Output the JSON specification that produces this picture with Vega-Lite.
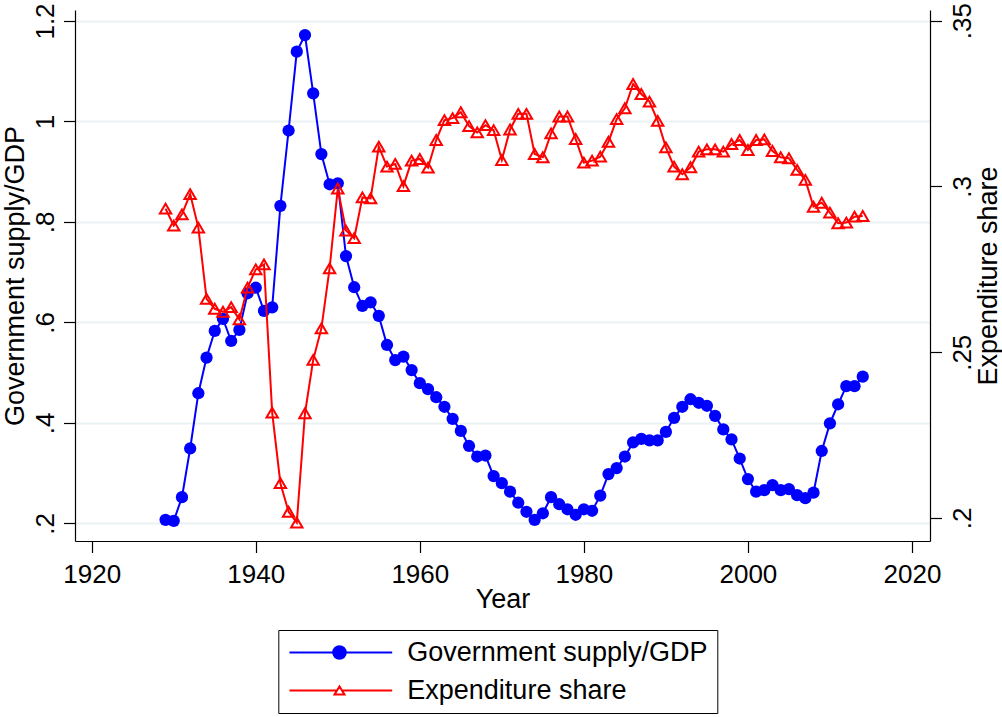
{
  "$schema": "https://vega.github.io/schema/vega-lite/v6.json",
  "autosize": "none",
  "width": 855,
  "height": 531,
  "padding": {"left": 75, "top": 10, "right": 72, "bottom": 176},
  "background": "white",
  "config": {
    "font": "Liberation Sans",
    "view": {"stroke": null},
    "axis": {
      "domainColor": "black",
      "domainWidth": 1.2,
      "tickColor": "black",
      "tickWidth": 1.2,
      "tickSize": 11.5,
      "labelColor": "black",
      "titleColor": "black",
      "labelFontSize": 26,
      "titleFontSize": 27,
      "titleFontWeight": "normal",
      "labelFont": "Liberation Sans",
      "titleFont": "Liberation Sans",
      "labelOverlap": false,
      "labelFlush": false,
      "labelBound": false
    }
  },
  "data": {
    "values": [
      {"year": 1929, "gov": 0.207, "exp": 0.2933},
      {"year": 1930, "gov": 0.205, "exp": 0.2882},
      {"year": 1931, "gov": 0.252, "exp": 0.2916},
      {"year": 1932, "gov": 0.349, "exp": 0.2977},
      {"year": 1933, "gov": 0.459, "exp": 0.2876},
      {"year": 1934, "gov": 0.530, "exp": 0.2661},
      {"year": 1935, "gov": 0.583, "exp": 0.2631},
      {"year": 1936, "gov": 0.607, "exp": 0.2622},
      {"year": 1937, "gov": 0.563, "exp": 0.2636},
      {"year": 1938, "gov": 0.585, "exp": 0.2599},
      {"year": 1939, "gov": 0.658, "exp": 0.2695},
      {"year": 1940, "gov": 0.669, "exp": 0.2750},
      {"year": 1941, "gov": 0.623, "exp": 0.2765},
      {"year": 1942, "gov": 0.630, "exp": 0.2318},
      {"year": 1943, "gov": 0.832, "exp": 0.2105},
      {"year": 1944, "gov": 0.982, "exp": 0.2019},
      {"year": 1945, "gov": 1.139, "exp": 0.1986},
      {"year": 1946, "gov": 1.172, "exp": 0.2316},
      {"year": 1947, "gov": 1.056, "exp": 0.2477},
      {"year": 1948, "gov": 0.935, "exp": 0.2572},
      {"year": 1949, "gov": 0.875, "exp": 0.2753},
      {"year": 1950, "gov": 0.877, "exp": 0.2994},
      {"year": 1951, "gov": 0.732, "exp": 0.2867},
      {"year": 1952, "gov": 0.670, "exp": 0.2844},
      {"year": 1953, "gov": 0.633, "exp": 0.2967},
      {"year": 1954, "gov": 0.640, "exp": 0.2964},
      {"year": 1955, "gov": 0.613, "exp": 0.3120},
      {"year": 1956, "gov": 0.555, "exp": 0.3060},
      {"year": 1957, "gov": 0.525, "exp": 0.3068},
      {"year": 1958, "gov": 0.532, "exp": 0.3001},
      {"year": 1959, "gov": 0.505, "exp": 0.3078},
      {"year": 1960, "gov": 0.479, "exp": 0.3083},
      {"year": 1961, "gov": 0.467, "exp": 0.3057},
      {"year": 1962, "gov": 0.451, "exp": 0.3140},
      {"year": 1963, "gov": 0.432, "exp": 0.3200},
      {"year": 1964, "gov": 0.408, "exp": 0.3206},
      {"year": 1965, "gov": 0.384, "exp": 0.3224},
      {"year": 1966, "gov": 0.354, "exp": 0.3182},
      {"year": 1967, "gov": 0.333, "exp": 0.3163},
      {"year": 1968, "gov": 0.335, "exp": 0.3185},
      {"year": 1969, "gov": 0.294, "exp": 0.3170},
      {"year": 1970, "gov": 0.280, "exp": 0.3080},
      {"year": 1971, "gov": 0.263, "exp": 0.3172},
      {"year": 1972, "gov": 0.241, "exp": 0.3219},
      {"year": 1973, "gov": 0.223, "exp": 0.3219},
      {"year": 1974, "gov": 0.207, "exp": 0.3098},
      {"year": 1975, "gov": 0.220, "exp": 0.3088},
      {"year": 1976, "gov": 0.252, "exp": 0.3160},
      {"year": 1977, "gov": 0.238, "exp": 0.3211},
      {"year": 1978, "gov": 0.228, "exp": 0.3211},
      {"year": 1979, "gov": 0.217, "exp": 0.3143},
      {"year": 1980, "gov": 0.228, "exp": 0.3072},
      {"year": 1981, "gov": 0.225, "exp": 0.3078},
      {"year": 1982, "gov": 0.255, "exp": 0.3090},
      {"year": 1983, "gov": 0.298, "exp": 0.3135},
      {"year": 1984, "gov": 0.310, "exp": 0.3203},
      {"year": 1985, "gov": 0.333, "exp": 0.3236},
      {"year": 1986, "gov": 0.361, "exp": 0.3309},
      {"year": 1987, "gov": 0.368, "exp": 0.3279},
      {"year": 1988, "gov": 0.365, "exp": 0.3256},
      {"year": 1989, "gov": 0.365, "exp": 0.3198},
      {"year": 1990, "gov": 0.382, "exp": 0.3118},
      {"year": 1991, "gov": 0.410, "exp": 0.3060},
      {"year": 1992, "gov": 0.432, "exp": 0.3037},
      {"year": 1993, "gov": 0.447, "exp": 0.3058},
      {"year": 1994, "gov": 0.440, "exp": 0.3105},
      {"year": 1995, "gov": 0.434, "exp": 0.3112},
      {"year": 1996, "gov": 0.414, "exp": 0.3112},
      {"year": 1997, "gov": 0.387, "exp": 0.3105},
      {"year": 1998, "gov": 0.367, "exp": 0.3128},
      {"year": 1999, "gov": 0.329, "exp": 0.3140},
      {"year": 2000, "gov": 0.288, "exp": 0.3110},
      {"year": 2001, "gov": 0.263, "exp": 0.3140},
      {"year": 2002, "gov": 0.266, "exp": 0.3142},
      {"year": 2003, "gov": 0.276, "exp": 0.3107},
      {"year": 2004, "gov": 0.266, "exp": 0.3088},
      {"year": 2005, "gov": 0.268, "exp": 0.3085},
      {"year": 2006, "gov": 0.256, "exp": 0.3050},
      {"year": 2007, "gov": 0.250, "exp": 0.3020},
      {"year": 2008, "gov": 0.261, "exp": 0.2939},
      {"year": 2009, "gov": 0.344, "exp": 0.2951},
      {"year": 2010, "gov": 0.399, "exp": 0.2921},
      {"year": 2011, "gov": 0.437, "exp": 0.2889},
      {"year": 2012, "gov": 0.473, "exp": 0.2891},
      {"year": 2013, "gov": 0.473, "exp": 0.2909},
      {"year": 2014, "gov": 0.492, "exp": 0.2911}
    ]
  },
  "encoding": {
    "x": {
      "field": "year",
      "type": "quantitative",
      "scale": {"domain": [1917.96, 2022.2], "nice": false, "zero": false},
      "axis": {
        "title": "Year",
        "values": [1920, 1940, 1960, 1980, 2000, 2020],
        "format": "d",
        "grid": false,
        "labelPadding": 9,
        "titleBaseline": "top",
        "titleY": 45
      }
    }
  },
  "layer": [
    {
      "encoding": {
        "y": {
          "field": "gov",
          "type": "quantitative",
          "scale": {"domain": [0.1648, 1.2219], "nice": false, "zero": false},
          "axis": {
            "orient": "left",
            "title": "Government supply/GDP",
            "values": [0.2, 0.4, 0.6, 0.8, 1, 1.2],
            "labelExpr": "replace(format(datum.value, '~g'), '0.', '.')",
            "labelAngle": -90,
            "labelAlign": "center",
            "labelBaseline": "alphabetic",
            "labelPadding": 10.5,
            "grid": true,
            "gridColor": "#eaf2f3",
            "gridWidth": 2,
            "titleAngle": -90,
            "titleBaseline": "alphabetic",
            "titleX": -52
          }
        },
        "color": {
          "datum": "Government supply/GDP",
          "scale": {"domain": ["Government supply/GDP", "Expenditure share"], "range": ["#0000ff", "#ff0000"]},
          "legend": {
            "title": null,
            "orient": "none",
            "legendX": 203.3,
            "legendY": 620,
            "direction": "vertical",
            "padding": 9,
            "rowPadding": 10,
            "strokeColor": "black",
            "fillColor": "white",
            "labelFontSize": 27,
            "labelFont": "Liberation Sans",
            "labelColor": "black",
            "labelLimit": 0,
            "labelOffset": 93,
            "symbolSize": 144,
            "symbolStrokeWidth": 2,
            "symbolOpacity": 1,
            "symbolType": "M-1.89,0H15.23M7.5,0A1.05,1.05,0,1,1,5.4,0A1.05,1.05,0,1,1,7.5,0",
            "encode": {
              "symbols": {
                "update": {
                  "shape": {"signal": "datum.value === 'Expenditure share' ? 'M-1.89,0H6.03M6.87,0H15.23M6.45,-0.67L7.28,0.67L5.62,0.67ZM6.45,-0.67L5.62,0.67L7.28,0.67Z' : 'M-1.89,0H15.23M7.5,0A1.05,1.05,0,1,1,5.4,0A1.05,1.05,0,1,1,7.5,0'"},
                  "strokeWidth": {"value": 2},
                  "opacity": {"value": 1}
                }
              }
            }
          }
        }
      },
      "layer": [
        {"mark": {"type": "line", "strokeWidth": 2}},
        {"mark": {"type": "point", "shape": "circle", "filled": true, "size": 150, "opacity": 1}}
      ]
    },
    {
      "encoding": {
        "y": {
          "field": "exp",
          "type": "quantitative",
          "scale": {"domain": [0.19306, 0.35323], "nice": false, "zero": false},
          "axis": {
            "orient": "right",
            "title": "Expenditure share",
            "values": [0.2, 0.25, 0.3, 0.35],
            "labelExpr": "replace(format(datum.value, '~g'), '0.', '.')",
            "labelAngle": -90,
            "labelAlign": "center",
            "labelBaseline": "top",
            "labelPadding": 8,
            "grid": false,
            "titleAngle": -90,
            "titleBaseline": "alphabetic",
            "titleX": 66
          }
        },
        "color": {"datum": "Expenditure share"}
      },
      "layer": [
        {"mark": {"type": "line", "strokeWidth": 2}},
        {"mark": {"type": "point", "shape": "triangle-up", "filled": false, "size": 130, "strokeWidth": 2, "opacity": 1}}
      ]
    }
  ],
  "resolve": {"scale": {"y": "independent"}}
}
